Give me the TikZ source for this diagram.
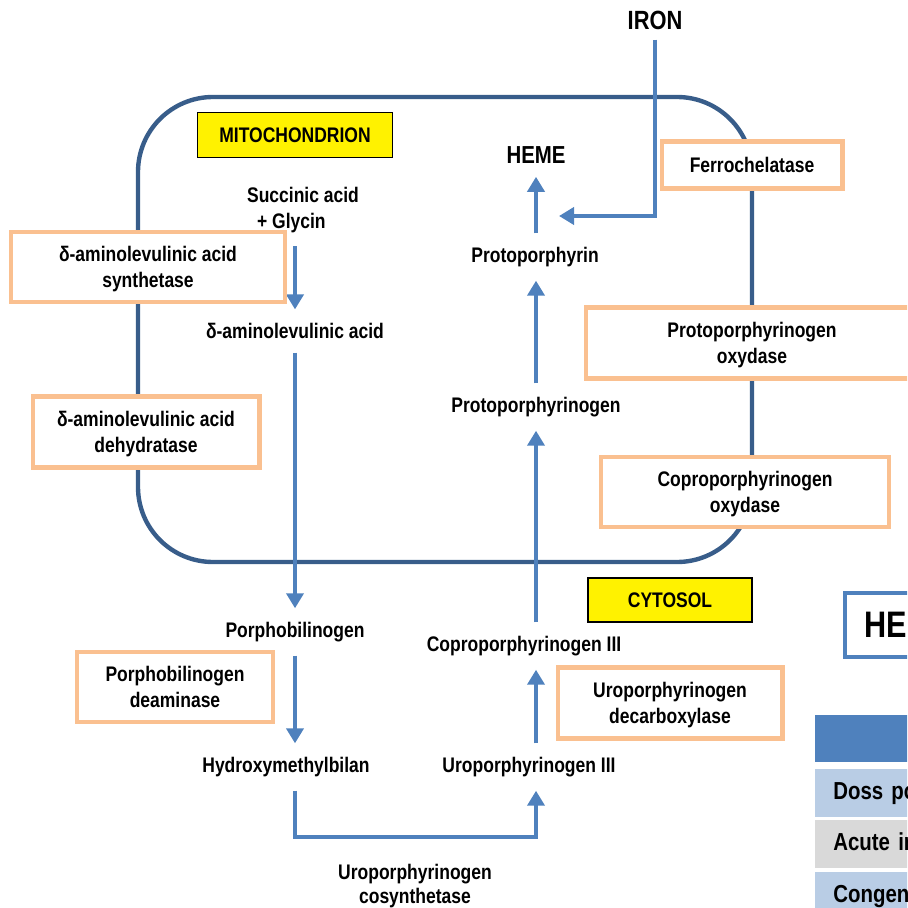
\documentclass[tikz,border=0pt]{standalone}
\usepackage{fontspec}
\setmainfont{Liberation Sans}[FakeStretch=0.83]
\usepackage{tikz}
\usepackage{xcolor}
\usetikzlibrary{positioning, arrows.meta}

\definecolor{membrane}{RGB}{56,93,138}
\definecolor{pathblue}{RGB}{79,129,189}
\definecolor{enzorange}{RGB}{250,192,144}
\definecolor{rowblue}{RGB}{185,205,229}
\definecolor{rowgrey}{RGB}{217,217,217}

\begin{document}
\begin{tikzpicture}[
            x=0.02cm, y=-0.02cm,
            every node/.style={font=\bfseries\fontsize{12}{14.5}\selectfont},
            metab/.style={inner xsep=2pt, inner ysep=0.27cm},
            enzyme/.style={draw=enzorange, line width=2.3pt, fill=white, align=center, inner sep=0pt, text depth=0pt},
            place/.style={draw=black, line width=0.9pt, fill=yellow, inner sep=0pt},
            flow/.style={draw=pathblue, line width=2.2pt, -{Triangle[width=0.34cm, length=0.3cm]}},
            tablerow/.style={anchor=west, minimum height=0.96cm, text width=10cm, align=left, inner xsep=0.36cm, inner ysep=0pt,
                font=\bfseries\fontsize{14}{16}\selectfont},
        ]
            \path[use as bounding box, clip] (0,0) rectangle (907,908);

            \draw[membrane, line width=2.5pt, rounded corners=1.5cm] (138,97) rectangle (752,562);

            \node[place, minimum width=3.9cm, minimum height=0.9cm] (mito) at (295,135) {MITOCHONDRION};
            \node[place, minimum width=3.28cm, minimum height=0.88cm] (cyto) at (670,600) {CYTOSOL};

            \node[metab, align=left] (succ) at (303,210) {Succinic acid\\\hspace{0.2cm}+ Glycin};
            \node[metab] (ala) at (295,331) {δ-aminolevulinic acid};
            \node[metab] (pbg) at (295,632) {Porphobilinogen};
            \node[metab] (hmb) at (286,767) {Hydroxymethylbilan};
            \node[metab] (uro) at (529,767) {Uroporphyrinogen III};
            \node[metab] (copro) at (524,646) {Coproporphyrinogen III};
            \node[metab] (protogen) at (536,407) {Protoporphyrinogen};
            \node[metab] (proto) at (535,257) {Protoporphyrin};
            \node[metab, inner ysep=0.26cm, font=\bfseries\fontsize{14}{16}\selectfont] (heme) at (536,155) {HEME};
            \node[inner sep=0.2cm, font=\bfseries\fontsize{15}{17}\selectfont] (iron) at (655,20) {IRON};
            \node[align=center, inner sep=0pt, font=\bfseries\fontsize{12}{13.7}\selectfont] (cosyn) at (415,886) {Uroporphyrinogen\\cosynthetase};
            \coordinate (fe) at (559,216);

            \draw[flow] (succ.south -| ala) -- (ala);
            \draw[flow] (ala) -- (pbg);
            \draw[flow] (pbg) -- (pbg |- hmb.north);
            \draw[flow] (pbg |- hmb.south) -- ++(0,46) -| (uro.south -| protogen);
            \draw[flow] (uro.north -| protogen) -- (copro.south -| protogen);
            \draw[flow] (copro.north -| protogen) -- (protogen);
            \draw[flow] (protogen) -- (protogen |- proto.south);
            \draw[flow] (proto.north -| heme) -- (heme);
            \draw[flow] (iron) |- (fe);

            \node[enzyme, minimum width=5.5cm, minimum height=1.4cm] (alas) at (148,267) {δ-aminolevulinic acid\\synthetase};
            \node[enzyme, minimum width=4.54cm, minimum height=1.42cm] (alad) at (146,432) {δ-aminolevulinic acid\\dehydratase};
            \node[enzyme, minimum width=3.92cm, minimum height=1.4cm] (pbgd) at (175,687) {Porphobilinogen\\deaminase};
            \node[enzyme, minimum width=3.62cm, minimum height=0.94cm] (fech) at (752,165) {Ferrochelatase};
            \node[enzyme, minimum width=6.64cm, minimum height=1.42cm] (ppox) at (752,343) {Protoporphyrinogen\\oxydase};
            \node[enzyme, minimum width=5.76cm, minimum height=1.4cm] (cpox) at (745,492) {Coproporphyrinogen\\oxydase};
            \node[enzyme, minimum width=4.5cm, minimum height=1.42cm] (urod) at (670,703) {Uroporphyrinogen\\decarboxylase};

            \node[draw=pathblue, line width=2.3pt, anchor=west, minimum height=1.28cm, inner xsep=0.38cm,
                font=\bfseries\fontsize{21}{24}\selectfont] (hebox) at (843,625) {HEME};
            \node[tablerow, fill=pathblue, minimum height=0.94cm] (thead) at (815,738) {};
            \node[tablerow, fill=rowblue] (doss) at (815,793) {Doss porphyria};
            \node[tablerow, fill=rowgrey] (aip) at (815,844) {Acute intermittent porphyria};
            \node[tablerow, fill=rowblue] (cep) at (815,896) {Congenital erythropoietic porphyria};
        \end{tikzpicture}
\end{document}
